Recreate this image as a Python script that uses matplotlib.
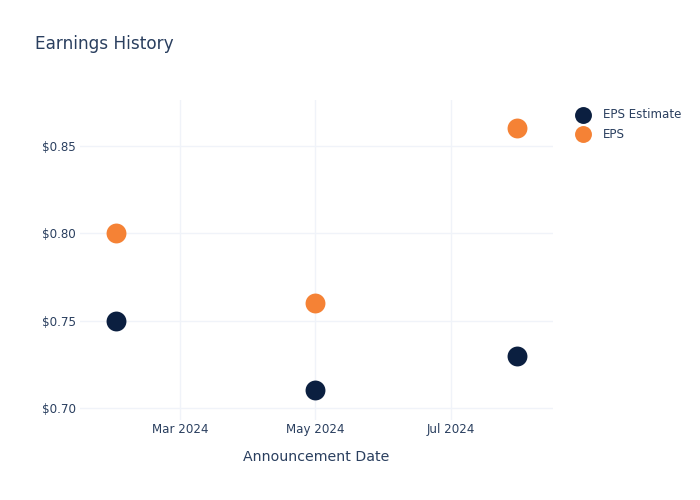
import matplotlib
matplotlib.use("Agg")
import matplotlib.dates as mdates
import numpy as np
import pandas as pd
from matplotlib import pyplot as plt

# data
dates = pd.to_datetime(["2024-02-01", "2024-05-01", "2024-07-31"])
eps_estimate = [0.75, 0.71, 0.73]
eps_actual = [0.80, 0.76, 0.86]

text_color = "#2a3f5f"
grid_color = "#F0F3F9"
colors = {"EPS Estimate": "#0B1F40", "EPS": "#F58235"}

plt.rcParams["font.family"] = "DejaVu Sans"

fig = plt.figure(figsize=(7, 5), dpi=100)
ax = fig.add_axes([80 / 700, 80 / 500, 473 / 700, 320 / 500])

ax.scatter(dates, eps_estimate, s=205, color=colors["EPS Estimate"], label="EPS Estimate", zorder=3, linewidths=0)
ax.scatter(dates, eps_actual, s=205, color=colors["EPS"], label="EPS", zorder=3, linewidths=0)

ax.set_xlim(pd.Timestamp("2024-01-16"), pd.Timestamp("2024-08-16"))
ax.set_ylim(0.6931, 0.8763)

ax.xaxis.set_major_locator(mdates.MonthLocator(bymonth=[3, 5, 7]))
ax.xaxis.set_major_formatter(mdates.DateFormatter("%b %Y"))
ax.set_yticks([0.70, 0.75, 0.80, 0.85])
ax.set_yticklabels([f"${v:.2f}" for v in [0.70, 0.75, 0.80, 0.85]])

for spine in ax.spines.values():
    spine.set_visible(False)
ax.grid(True, color=grid_color, linewidth=1)
ax.set_axisbelow(True)
ax.tick_params(axis="both", length=0, labelsize=8.6, labelcolor=text_color)
ax.tick_params(axis="y", pad=3)
ax.tick_params(axis="x", pad=2)

ax.set_xlabel("Announcement Date", fontsize=10.2, color=text_color, labelpad=10)

fig.text(35 / 700, 1 - 44 / 500, "Earnings History", fontsize=12.2, color=text_color, va="center", ha="left")

ax.legend(loc="upper left", bbox_to_anchor=(571 / 700, 1 - 108 / 500), bbox_transform=fig.transFigure,
          frameon=False, fontsize=8.6, labelcolor=text_color, handletextpad=0.7,
          labelspacing=0.55, borderaxespad=0, borderpad=0, markerscale=0.85)

fig.savefig("out.png", dpi=100)
